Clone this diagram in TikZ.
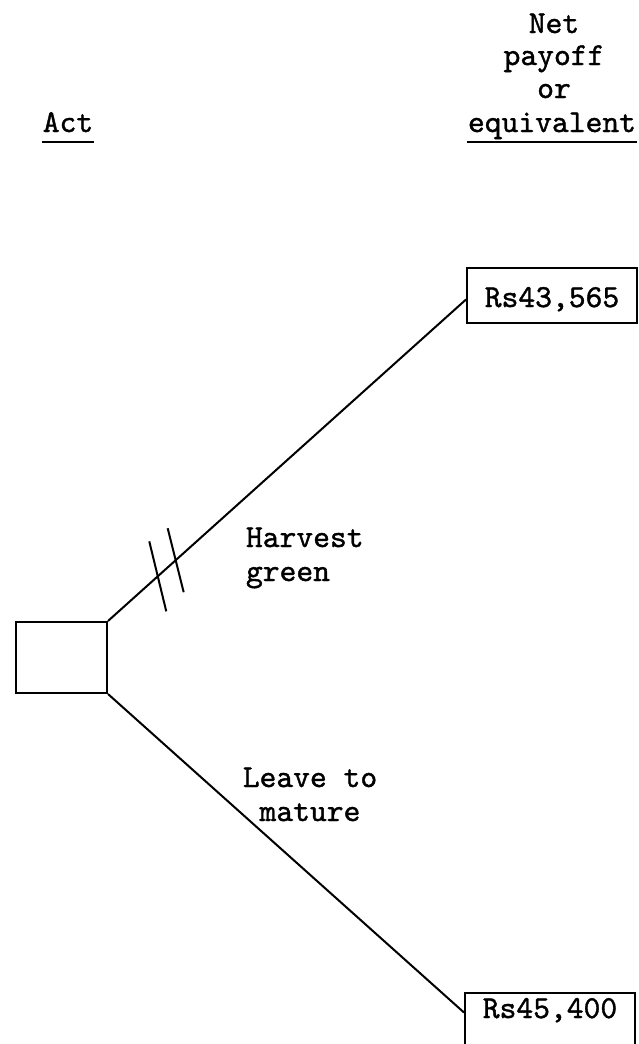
\documentclass[tikz,border=0pt]{standalone}
\usepackage{fontspec}
\newfontfamily\tw{lmmono10-regular.otf}[FakeBold=1.2]
\begin{document}
\begin{tikzpicture}[x=1pt,y=-1pt,line width=2pt,
  lbl/.style={font=\tw\fontsize{32}{34}\selectfont, inner sep=0pt, anchor=base},
  paybox/.style={draw, font=\tw\fontsize{32}{34}\selectfont, inner sep=0pt,
    minimum width=170pt, minimum height=55pt},
  actbox/.style={draw, inner sep=0pt, minimum width=91pt, minimum height=71pt},
  branch/.style={line width=2pt},
  hashmark/.style={line width=2pt},
  uline/.style={line width=1.3pt}]
\useasboundingbox (0,0) rectangle (639,1044);
% headers
\node[lbl] (actlbl) at (68,132) {Act};
\node[lbl] (net) at (554,33) {Net};
\node[lbl] (pay) at (554,65) {payoff};
\node[lbl] (orr) at (554,98) {or};
\node[lbl] (eqv) at (552,132) {equivalent};
\draw[uline] ([yshift=-10pt]actlbl.base west) -- ([yshift=-10pt]actlbl.base east);
\draw[uline] ([yshift=-10pt]eqv.base west) -- ([yshift=-10pt]eqv.base east);
% decision node
\node[actbox] (act) at (61.5,657.5) {};
% payoff boxes
\node[paybox, text height=23pt, text depth=0pt] (p1) at (552,295.5) {Rs43,565};
\node[paybox, text height=17pt, text depth=22pt] (p2) at (550,1020.5) {Rs45,400};
% branches
\draw[branch] (act.north east) -- ([yshift=-4pt]p1.west)
  coordinate[pos=0.139] (h1) coordinate[pos=0.189] (h2);
\draw[branch] (act.south east) -- ([yshift=8pt]p2.west);
% hash marks on the upper branch
\draw[hashmark] ([shift={(-8.5,-35)}]h1) -- ([shift={(8.5,35)}]h1);
\draw[hashmark] ([shift={(-8,-32)}]h2) -- ([shift={(8,32)}]h2);
% branch labels
\node[lbl, anchor=base west] (harv) at (245,547) {Harvest};
\node[lbl, anchor=base west] (grn) at (245,581) {green};
\node[lbl] (leave) at (310,787) {Leave to};
\node[lbl] (mat) at (310,821) {mature};
\end{tikzpicture}
\end{document}
